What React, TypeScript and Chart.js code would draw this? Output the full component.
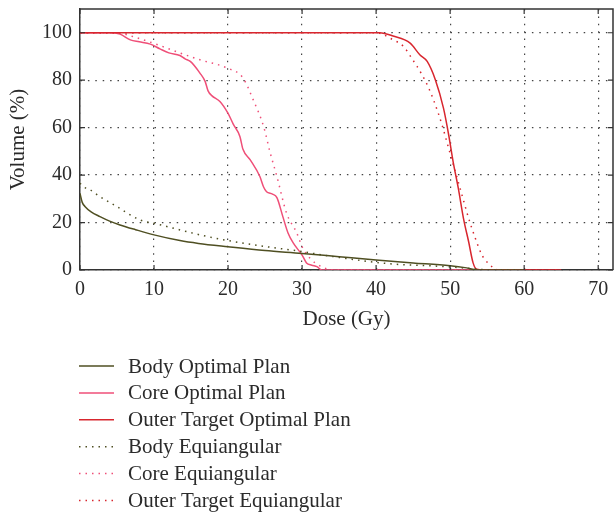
import React, { useEffect, useRef } from "react";
import { Chart, registerables } from "chart.js";

Chart.register(...registerables);

// Dose (Gy), Volume (%) pairs
const bodyOptimal: [number, number][] = [
  [0, 32.3], [0.3, 28.5], [0.7, 26.7], [1.5, 24.5], [2.7, 22.5], [4, 20.6], [5.4, 19],
  [7.5, 17], [10, 14.8], [13.5, 12.4], [16, 11.2], [20, 9.8], [25, 8.2], [30, 7],
  [35, 5.6], [40, 4.2], [45, 3], [50, 1.8], [52, 1], [53.4, 0.1], [55, 0], [60, 0],
];
const coreOptimal: [number, number][] = [
  [0, 100], [4, 100], [5.4, 99.4], [6.8, 97], [8, 96.2], [9.5, 95.2], [10.8, 93.2],
  [12, 91.5], [13.5, 90.4], [14.2, 89], [14.9, 87.9], [16.2, 83], [16.9, 79.5],
  [17.3, 75.5], [17.8, 73.5], [18.9, 71], [20, 66], [20.7, 61.5], [21.6, 56.3],
  [22, 51], [23, 46.4], [24.3, 39.4], [24.8, 35], [25.2, 33], [26, 32], [26.6, 30.5],
  [27.4, 22.5], [28.1, 15.6], [28.8, 11.4], [30, 6.3], [30.6, 3], [31.3, 2], [32, 1.4],
  [32.7, 0], [60, 0],
];
const outerOptimal: [number, number][] = [
  [0, 100], [40.5, 100], [42.3, 98.6], [44.6, 95.6], [45.9, 90.7], [46.9, 87.9],
  [48, 80.2], [49.1, 68.2], [49.8, 57], [50.4, 45.7], [51.1, 34.5], [51.8, 21.8],
  [52.5, 11.9], [53.1, 3], [53.6, 0.3], [54.5, 0], [65, 0],
];
const bodyEquiangular: [number, number][] = [
  [0, 36.6], [0.5, 35], [1.35, 33.8], [2.7, 30.9], [5, 26.7], [8.1, 21.1], [10, 19.7],
  [13.5, 16.9], [16.5, 14.6], [20, 12.4], [25.7, 9.6], [30, 7.8], [31.1, 7.2], [35, 5.3],
  [40, 3.2], [43.2, 2.3], [47, 1.8], [50, 1.3], [52, 0.8], [54, 0.3], [55, 0], [60, 0],
];
const coreEquiangular: [number, number][] = [
  [0, 100], [5, 100], [7, 98.5], [9.9, 95.6], [13.5, 91.5], [16.2, 88.6], [19.8, 85.2],
  [22, 81], [23.4, 71.7], [24.8, 60.5], [25.7, 49.3], [26.6, 39.4], [27.9, 24],
  [29.3, 15.5], [30, 9.8], [31.1, 4.8], [32.3, 2], [33.3, 0.5], [34, 0], [60, 0],
];
const outerEquiangular: [number, number][] = [
  [0, 100], [40, 100], [42.3, 97], [43.7, 94.2], [44.8, 89.3], [46.2, 82.3], [47.1, 76.7],
  [48, 69.6], [48.9, 61.2], [49.8, 51.3], [50.7, 41.5], [51.6, 31.6], [52.5, 21.8],
  [53.4, 13.4], [54.3, 6.3], [55.4, 2.1], [56.2, 0.3], [57, 0], [65, 0],
];

const seriesLabels = [
  "Body Optimal Plan",
  "Core Optimal Plan",
  "Outer Target Optimal Plan",
  "Body Equiangular",
  "Core Equiangular",
  "Outer Target Equiangular",
];
const seriesData = [bodyOptimal, coreOptimal, outerOptimal, bodyEquiangular, coreEquiangular, outerEquiangular];
const seriesDotted = [false, false, false, true, true, true];
const seriesOrder = [1, 5, 3, 2, 6, 4];

const OLIVE = "#4f4f22";
const PINK = "#ef4f78";
const RED = "#d8262e";
const seriesColors = [OLIVE, PINK, RED, OLIVE, PINK, RED];

const xTitle = "Dose (Gy)";
const yTitle = "Volume (%)";
const xMax = 72;
const yMax = 110;

const SERIF = "'Liberation Serif', 'Times New Roman', serif";
const TEXT = "#2b2b2b";
const DOT_DASH = [1.5, 5];

const framePlugin = {
  id: "frame",
  afterDatasetsDraw(chart: any) {
    const { ctx, chartArea: a, scales } = chart;
    ctx.save();
    ctx.strokeStyle = "#333";
    ctx.lineWidth = 1.5;
    ctx.beginPath();
    ctx.moveTo(a.left, a.top);
    ctx.lineTo(a.right, a.top);
    ctx.lineTo(a.right, a.bottom);
    ctx.stroke();
    ctx.lineWidth = 1.2;
    const tl = 5;
    ctx.beginPath();
    scales.x.ticks.forEach((t: any) => {
      const px = scales.x.getPixelForValue(t.value);
      ctx.moveTo(px, a.bottom);
      ctx.lineTo(px, a.bottom - tl);
      ctx.moveTo(px, a.top);
      ctx.lineTo(px, a.top + tl);
    });
    scales.y.ticks.forEach((t: any) => {
      const py = scales.y.getPixelForValue(t.value);
      ctx.moveTo(a.left, py);
      ctx.lineTo(a.left + tl, py);
      ctx.moveTo(a.right, py);
      ctx.lineTo(a.right - tl, py);
    });
    ctx.stroke();
    ctx.restore();
  },
};

const legendPlugin = {
  id: "stackedLegend",
  afterDraw(chart: any) {
    const { ctx } = chart;
    ctx.save();
    ctx.font = `21px ${SERIF}`;
    ctx.textBaseline = "middle";
    ctx.textAlign = "left";
    chart.data.datasets.forEach((ds: any, i: number) => {
      const y = 366 + i * 26.9;
      ctx.strokeStyle = ds.borderColor;
      ctx.lineWidth = 1.5;
      ctx.setLineDash(ds.borderDash || []);
      ctx.beginPath();
      ctx.moveTo(79, y);
      ctx.lineTo(114, y);
      ctx.stroke();
      ctx.setLineDash([]);
      ctx.fillStyle = TEXT;
      ctx.fillText(ds.label, 128, y + 1);
    });
    ctx.restore();
  },
};

export default function App() {
  const ref = useRef<HTMLCanvasElement>(null);
  useEffect(() => {
    if (!ref.current) return;
    const chart = new Chart(ref.current, {
      type: "line",
      data: {
        datasets: seriesLabels.map((label, i) => ({
          label,
          data: seriesData[i].map(([x, y]) => ({ x, y })),
          borderColor: seriesColors[i],
          backgroundColor: seriesColors[i],
          borderWidth: 1.5,
          borderDash: seriesDotted[i] ? DOT_DASH : [],
          pointRadius: 0,
          fill: false,
          cubicInterpolationMode: "monotone" as const,
          order: seriesOrder[i],
        })),
      },
      options: {
        animation: false,
        responsive: false,
        devicePixelRatio: 1,
        layout: { padding: { top: 9, right: 1, bottom: 176, left: 0 } },
        plugins: { legend: { display: false }, tooltip: { enabled: false } },
        scales: {
          x: {
            type: "linear",
            min: 0,
            max: xMax,
            ticks: { stepSize: 10, includeBounds: false, color: TEXT, font: { family: SERIF, size: 20 }, padding: 8, maxRotation: 0 },
            grid: { color: "#444", lineWidth: 1.2, drawTicks: false },
            border: { display: true, color: "#333", width: 1.5, dash: [1.5, 5.9] },
            title: { display: true, text: xTitle, color: TEXT, font: { family: SERIF, size: 21 }, padding: { top: 4, bottom: 4 } },
            afterFit: (s: any) => { s.height = 66; s.paddingLeft = 0; s.paddingRight = 0; },
          },
          y: {
            type: "linear",
            min: 0,
            max: yMax,
            ticks: { stepSize: 20, includeBounds: false, color: TEXT, font: { family: SERIF, size: 20 }, padding: 8 },
            grid: { color: "#444", lineWidth: 1.2, drawTicks: false },
            border: { display: true, color: "#333", width: 1.5, dash: [1.5, 5.9] },
            title: { display: true, text: yTitle, color: TEXT, font: { family: SERIF, size: 21 }, padding: { top: 6, bottom: 4 } },
            afterFit: (s: any) => { s.width = 80; s.paddingTop = 0; s.paddingBottom = 0; },
          },
        },
      },
      plugins: [framePlugin, legendPlugin],
    });
    return () => chart.destroy();
  }, []);
  return (
    <div style={{ position: "absolute", left: 0, top: 0, width: 614, height: 512, background: "#fff" }}>
      <canvas ref={ref} width={614} height={512} />
    </div>
  );
}
